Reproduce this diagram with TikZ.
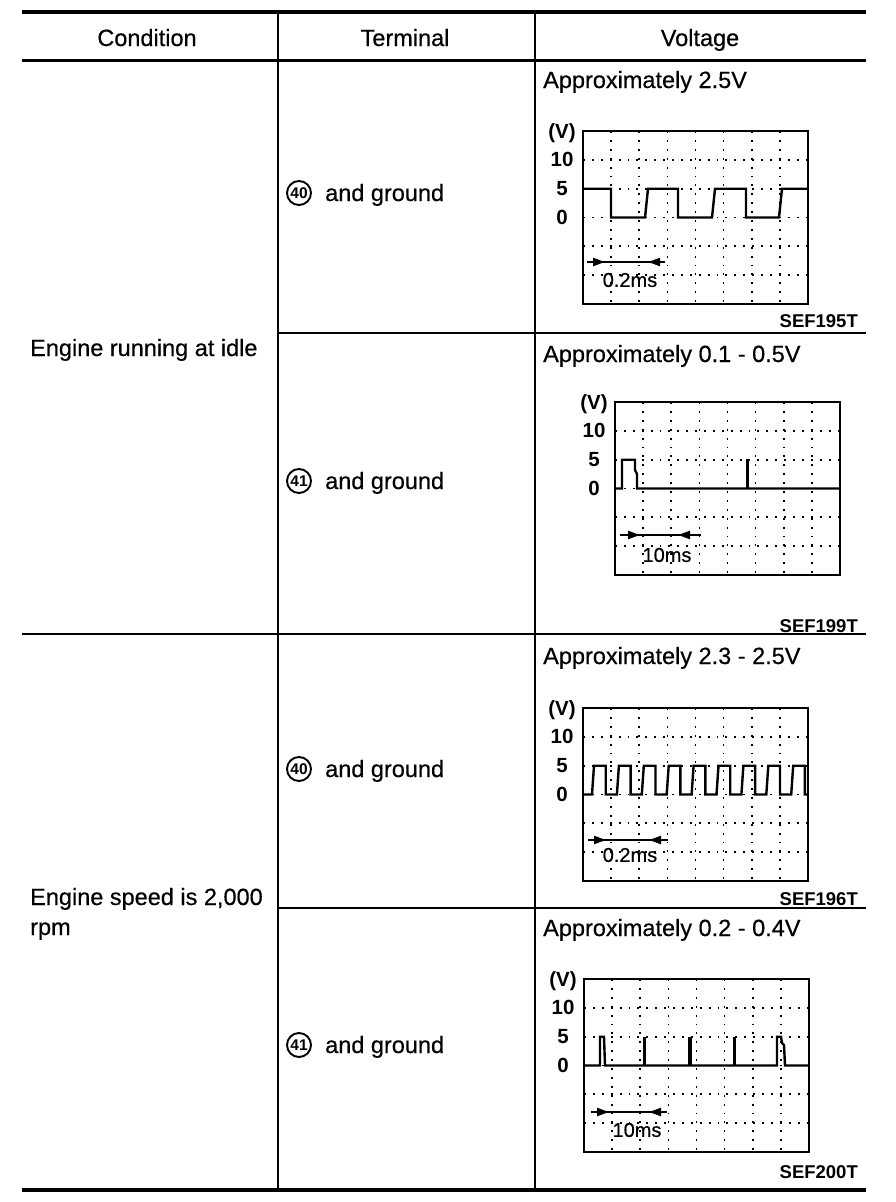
\documentclass[tikz,border=0pt]{standalone}
\usepackage{fontspec}
\setmainfont{Liberation Sans}
\newfontfamily\scanfont{Liberation Sans}[FakeBold=0.5]
\usetikzlibrary{arrows.meta}
\begin{document}
\begin{tikzpicture}[x=1pt,y=-1pt,
  maintext/.style={font=\scanfont\fontsize{23.5}{28}\selectfont, inner sep=0pt},
  scalelab/.style={font=\bfseries\fontsize{20.5}{24}\selectfont, inner sep=0pt},
  timelab/.style={font=\scanfont\fontsize{20}{24}\selectfont, inner sep=0pt},
  codelab/.style={font=\bfseries\fontsize{18.5}{22}\selectfont, inner sep=0pt, anchor=base east},
  cnum/.style={circle, draw, line width=1.9pt, minimum size=24pt, inner sep=0pt, font=\bfseries\fontsize{15.5}{16}\selectfont},
  griddot/.style={line width=1.7pt, dash pattern=on 1.9pt off 7pt},
  scframe/.style={line width=2.2pt},
  wave/.style={line width=2.4pt, line join=miter},
  spikeline/.style={line width=3.4pt},
  tbar/.style={line width=2.2pt},
  tarrow/.style={line width=2.2pt, -{Triangle[length=12pt,width=8pt]}},
  thickrule/.style={line width=4pt},
  midrule/.style={line width=3pt},
  thinrule/.style={line width=2pt},
  scopegrid/.pic={
    \foreach \i in {1,...,7} \draw[griddot] (\i*28.125,0) -- (\i*28.125,173);
    \foreach \j in {1,...,5} \draw[griddot] (0,\j*28.833) -- (225,\j*28.833);
    \draw[scframe] (0,0) rectangle (225,173);
    \node[scalelab] (-v) at (-21,2) {(V)};
    \node[scalelab] (-ten) at (-21,28.8) {10};
    \node[scalelab] (-five) at (-21,57.7) {5};
    \node[scalelab] (-zero) at (-21,86.5) {0};
  }
]
\useasboundingbox (0,0) rectangle (896,1202);

% table rules
\draw[thickrule] (22,12) -- (866,12);
\draw[midrule] (22,60) -- (866,60);
\draw[thinrule] (278,12) -- (278,1190);
\draw[thinrule] (535,12) -- (535,1190);
\draw[thinrule] (278,333) -- (866,333);
\draw[thinrule] (22,634) -- (866,634);
\draw[thinrule] (278,908) -- (866,908);
\draw[line width=4.5pt] (22,1190) -- (866,1190);

% header
\node[maintext, anchor=base] (hcond) at (147,46) {Condition};
\node[maintext, anchor=base] (hterm) at (405,46) {Terminal};
\node[maintext, anchor=base] (hvolt) at (700,46) {Voltage};

% conditions
\node[maintext, anchor=base west] (cond1) at (30,356) {Engine running at idle};
\node[maintext, anchor=base west] (cond2a) at (30,905) {Engine speed is 2,000};
\node[maintext, anchor=base west] (cond2b) at (30,935) {rpm};

% terminals
\node[cnum] (n1) at (299,193) {40};
\node[maintext, anchor=base west] (term1) at (325,201) {and ground};
\node[cnum] (n2) at (299,481) {41};
\node[maintext, anchor=base west] (term2) at (325,489) {and ground};
\node[cnum] (n3) at (299,769) {40};
\node[maintext, anchor=base west] (term3) at (325,777) {and ground};
\node[cnum] (n4) at (299,1045) {41};
\node[maintext, anchor=base west] (term4) at (325,1053) {and ground};

% voltages
\node[maintext, anchor=base west] (volt1) at (543,88) {Approximately 2.5V};
\node[maintext, anchor=base west] (volt2) at (543,362) {Approximately 0.1 - 0.5V};
\node[maintext, anchor=base west] (volt3) at (543,664) {Approximately 2.3 - 2.5V};
\node[maintext, anchor=base west] (volt4) at (543,936) {Approximately 0.2 - 0.4V};

% scope 1
\begin{scope}[shift={(583,131)}]
  \pic (sa) at (0,0) {scopegrid};
  \draw[wave] (0,57.7) -- (28,57.7) -- (28,86.5) -- (62,86.5) -- (65,57.7) -- (95,57.7) -- (95,86.5) -- (129,86.5) -- (132,57.7) -- (163,57.7) -- (163,86.5) -- (196,86.5) -- (199,57.7) -- (225,57.7);
  \coordinate (a1l) at (4,131);
  \coordinate (a1r) at (82,131);
  \draw[tbar] (a1l) -- (a1r);
  \draw[tarrow] (10,131) -- (22,131);
  \draw[tarrow] (77,131) -- (65,131);
  \node[timelab] (tm1) at (47,149) {0.2ms};
\end{scope}
\node[codelab] (code1) at (858,327) {SEF195T};

% scope 2
\begin{scope}[shift={(615,402)}]
  \pic (sb) at (0,0) {scopegrid};
  \draw[wave] (0,86.5) -- (7,86.5) -- (7,57.7) -- (20,57.7) -- (20,68) -- (22,72) -- (22,86.5) -- (225,86.5);
  \draw[spikeline] (132.5,86.5) -- (132.5,56.5);
  \coordinate (a2l) at (5,133);
  \coordinate (a2r) at (86,133);
  \draw[tbar] (a2l) -- (a2r);
  \draw[tarrow] (12,133) -- (25,133);
  \draw[tarrow] (76,133) -- (63,133);
  \node[timelab] (tm2) at (52,153) {10ms};
\end{scope}
\node[codelab] (code2) at (858,632) {SEF199T};

% scope 3
\begin{scope}[shift={(583,708)}]
  \pic (sc) at (0,0) {scopegrid};
  \draw[wave] (0,86.5) \foreach \k in {0,...,8} { -- ({9+\k*24.9},86.5) -- ({11+\k*24.9},57.7) -- ({22.7+\k*24.9},57.7) -- ({22.7+\k*24.9},86.5) } -- (225,86.5);
  \coordinate (a3l) at (5,132);
  \coordinate (a3r) at (85,132);
  \draw[tbar] (a3l) -- (a3r);
  \draw[tarrow] (11,132) -- (23,132);
  \draw[tarrow] (78,132) -- (66,132);
  \node[timelab] (tm3) at (47,147) {0.2ms};
\end{scope}
\node[codelab] (code3) at (858,905) {SEF196T};

% scope 4
\begin{scope}[shift={(584,979)}]
  \pic (sd) at (0,0) {scopegrid};
  \draw[wave] (0,86.5) -- (16,86.5) -- (16,57.7) -- (20,57.7) -- (21,86.5) -- (193,86.5) -- (193,57.7) -- (197,57.7) -- (198,64) -- (200,66) -- (201,86.5) -- (225,86.5);
  \draw[spikeline] (60.5,86.5) -- (60.5,57.7);
  \draw[spikeline] (106,86.5) -- (106,57.7);
  \draw[spikeline] (150.5,86.5) -- (150.5,57.7);
  \coordinate (a4l) at (7,133);
  \coordinate (a4r) at (83,133);
  \draw[tbar] (a4l) -- (a4r);
  \draw[tarrow] (13,133) -- (25,133);
  \draw[tarrow] (77,133) -- (65,133);
  \node[timelab] (tm4) at (53,151) {10ms};
\end{scope}
\node[codelab] (code4) at (858,1178) {SEF200T};

\end{tikzpicture}
\end{document}
